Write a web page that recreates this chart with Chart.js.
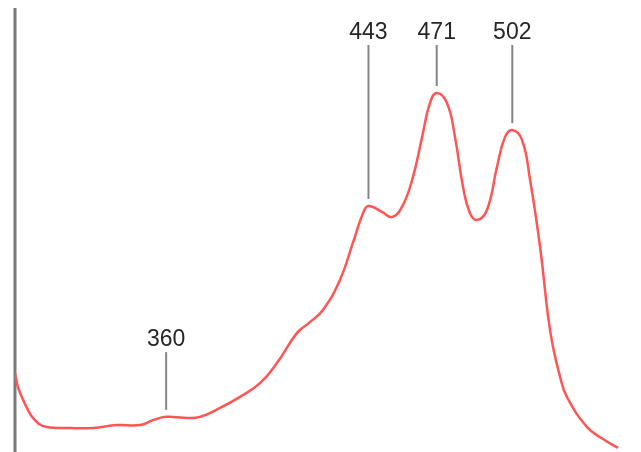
<!DOCTYPE html>
<html>
<head>
<meta charset="utf-8">
<script src="https://cdn.jsdelivr.net/npm/chart.js@4/dist/chart.umd.min.js"></script>
<style>
  html, body { margin: 0; padding: 0; background: #fff; }
  canvas { display: block; }
</style>
</head>
<body>
<canvas id="spectrum" width="641" height="452"></canvas>
<script>
// Absorption spectrum: wavelength (nm) against absorbance (arbitrary units)
const wavelengths = [
  298, 299.2, 301.3, 303.3, 305.4, 309.5, 319.3, 330, 339.8, 349.3,
  354.6, 360, 368.6, 373.9, 382.1, 390.3, 398.5, 405.5, 413.7, 419,
  424.3, 431.3, 436.6, 440.8, 443, 448.5, 452.6, 456.7, 460.9, 465,
  468.2, 471, 475.2, 478.5, 481.8, 484.6, 487.5, 491.6, 495.7, 499,
  502, 506, 509.3, 513.4, 516.7, 518.7, 521.6, 524.4, 532.6, 539.2,
  545.4
];
const absorbance = [
  0.213, 0.176, 0.141, 0.114, 0.092, 0.070, 0.065, 0.065, 0.073, 0.073,
  0.086, 0.095, 0.092, 0.095, 0.119, 0.149, 0.186, 0.241, 0.322, 0.351,
  0.384, 0.465, 0.565, 0.646, 0.665, 0.649, 0.635, 0.662, 0.735, 0.851,
  0.943, 0.970, 0.943, 0.851, 0.716, 0.646, 0.627, 0.654, 0.770, 0.851,
  0.870, 0.843, 0.735, 0.554, 0.365, 0.284, 0.203, 0.149, 0.068, 0.035,
  0.011
];

// Annotated maxima and the absorbance level where each label sits
const peakWavelengths = [360, 443, 471, 502];
const peakLabels = ['360', '443', '471', '502'];
const labelLevels = [0.27, 1.1, 1.1, 1.1];

const points = wavelengths.map((w, i) => ({ x: w, y: absorbance[i] }));

// Vertical axis line on the left edge of the plot area
const axisLine = {
  id: 'axisLine',
  beforeDatasetsDraw(chart) {
    const { ctx, chartArea } = chart;
    ctx.save();
    ctx.strokeStyle = '#7a7a7a';
    ctx.lineWidth = 3;
    ctx.beginPath();
    ctx.moveTo(chartArea.left, chartArea.top);
    ctx.lineTo(chartArea.left, chartArea.bottom);
    ctx.stroke();
    ctx.restore();
  }
};

// Peak labels with leader lines pointing down at the curve
const peakMarkers = {
  id: 'peakMarkers',
  afterDatasetsDraw(chart) {
    const { ctx, scales } = chart;
    ctx.save();
    peakWavelengths.forEach((w, i) => {
      const idx = wavelengths.indexOf(w);
      const px = scales.x.getPixelForValue(w);
      const py = scales.y.getPixelForValue(absorbance[idx]);
      const top = scales.y.getPixelForValue(labelLevels[i]);
      ctx.strokeStyle = '#858585';
      ctx.lineWidth = 2;
      ctx.beginPath();
      ctx.moveTo(px, top);
      ctx.lineTo(px, py - 7);
      ctx.stroke();
      ctx.fillStyle = '#262626';
      ctx.font = '23px "Liberation Sans", Arial, sans-serif';
      ctx.textAlign = 'center';
      ctx.textBaseline = 'middle';
      ctx.fillText(peakLabels[i], px, top - 12);
    });
    ctx.restore();
  }
};

new Chart(document.getElementById('spectrum'), {
  type: 'line',
  data: {
    datasets: [{
      data: points,
      borderColor: 'rgb(255, 85, 85)',
      borderWidth: 2.5,
      pointRadius: 0,
      fill: false,
      tension: 0.45
    }]
  },
  options: {
    responsive: false,
    animation: false,
    layout: { padding: { left: 15, right: 19, top: 8, bottom: 0 } },
    scales: {
      x: { type: 'linear', min: 298, max: 547, display: false },
      y: { min: 0, max: 1.2, display: false }
    },
    plugins: { legend: { display: false }, tooltip: { enabled: false } }
  },
  plugins: [axisLine, peakMarkers]
});
</script>
</body>
</html>
